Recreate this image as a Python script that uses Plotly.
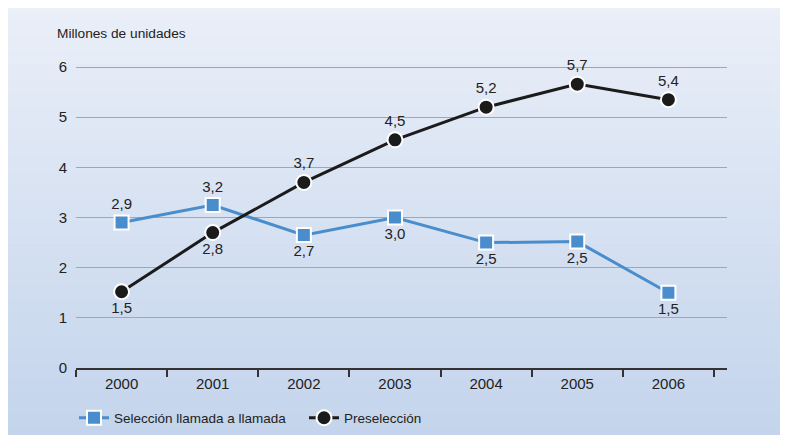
import plotly.graph_objects as go

# Datos
anios = ["2000", "2001", "2002", "2003", "2004", "2005", "2006"]
seleccion = [2.9, 3.25, 2.65, 3.0, 2.5, 2.52, 1.5]
seleccion_txt = ["2,9", "3,2", "2,7", "3,0", "2,5", "2,5", "1,5"]
preseleccion = [1.52, 2.7, 3.7, 4.55, 5.2, 5.66, 5.35]
preseleccion_txt = ["1,5", "2,8", "3,7", "4,5", "5,2", "5,7", "5,4"]

fuente = "Liberation Sans, Arial, sans-serif"
azul = "#4a8dcd"
negro = "#1b1b1b"

# la pagina deja 8px de margen alrededor
W, H = 772, 427
ml, mr, mt, mb = 68, 53, 29, 67
pw, ph = W - ml - mr, H - mt - mb

fig = go.Figure()

fig.add_trace(go.Scatter(
    x=anios, y=seleccion, text=seleccion_txt, name="Selección llamada a llamada",
    mode="lines+markers+text",
    textposition=["top center", "top center", "bottom center", "bottom center",
                  "bottom center", "bottom center", "bottom center"],
    textfont=dict(size=15, color="#222", family=fuente),
    line=dict(color=azul, width=3),
    marker=dict(symbol="square", size=14, color=azul, line=dict(color="white", width=2)),
))

fig.add_trace(go.Scatter(
    x=anios, y=preseleccion, text=preseleccion_txt, name="Preselección",
    mode="lines+markers+text",
    textposition=["bottom center", "bottom center", "top center", "top center",
                  "top center", "top center", "top center"],
    textfont=dict(size=15, color="#222", family=fuente),
    line=dict(color=negro, width=3),
    marker=dict(symbol="circle", size=15, color=negro, line=dict(color="white", width=2)),
))

# Fondo degradado en bandas
shapes = []
n = 60
c0, c1 = (234, 239, 248), (195, 212, 236)
for i in range(n):
    ya = H * i / n
    yb = H * (i + 1) / n
    t = (i + 0.5) / n
    col = "rgb(%d,%d,%d)" % tuple(round(c0[k] + (c1[k] - c0[k]) * t) for k in range(3))
    shapes.append(dict(
        type="rect", xref="paper", yref="paper", layer="below",
        x0=-ml / pw, x1=(W - ml) / pw,
        y0=(H - mb - yb) / ph, y1=(H - mb - ya) / ph + 0.002,
        fillcolor=col, line=dict(width=0),
    ))

fig.update_layout(
    width=W, height=H,
    margin=dict(l=ml, r=mr, t=mt, b=mb, autoexpand=False),
    paper_bgcolor="white",
    plot_bgcolor="rgba(0,0,0,0)",
    font=dict(family=fuente, size=15, color="#222"),
    shapes=shapes,
    showlegend=True,
    legend=dict(orientation="h", xref="container", yref="container",
                x=66 / W, xanchor="left", y=1 - 410 / H, yanchor="middle",
                bgcolor="rgba(0,0,0,0)", font=dict(size=13.5, family=fuente),
                entrywidth=185, entrywidthmode="pixels"),
    annotations=[dict(
        text="Millones de unidades", xref="paper", yref="paper",
        x=(47 - ml) / pw, y=(H - mb - 26) / ph, xanchor="left", yanchor="middle",
        showarrow=False, font=dict(size=13.7, family=fuente, color="#222"),
    )],
)

fig.update_xaxes(
    type="category", range=[-0.5, 6.643],
    showgrid=False, showline=True, linecolor="#333", linewidth=1.5,
    ticks="outside", tickson="boundaries", ticklen=7, tickcolor="#333", tickwidth=1.5,
    ticklabelstandoff=1, zeroline=False, fixedrange=True,
)
fig.update_yaxes(
    range=[0, 6.6], tickvals=[0, 1, 2, 3, 4, 5, 6],
    showgrid=True, gridcolor="#a3a7ab", gridwidth=1,
    zeroline=False, showline=False, ticks="", ticklabelstandoff=8,
)

fig.write_html("out.html")
